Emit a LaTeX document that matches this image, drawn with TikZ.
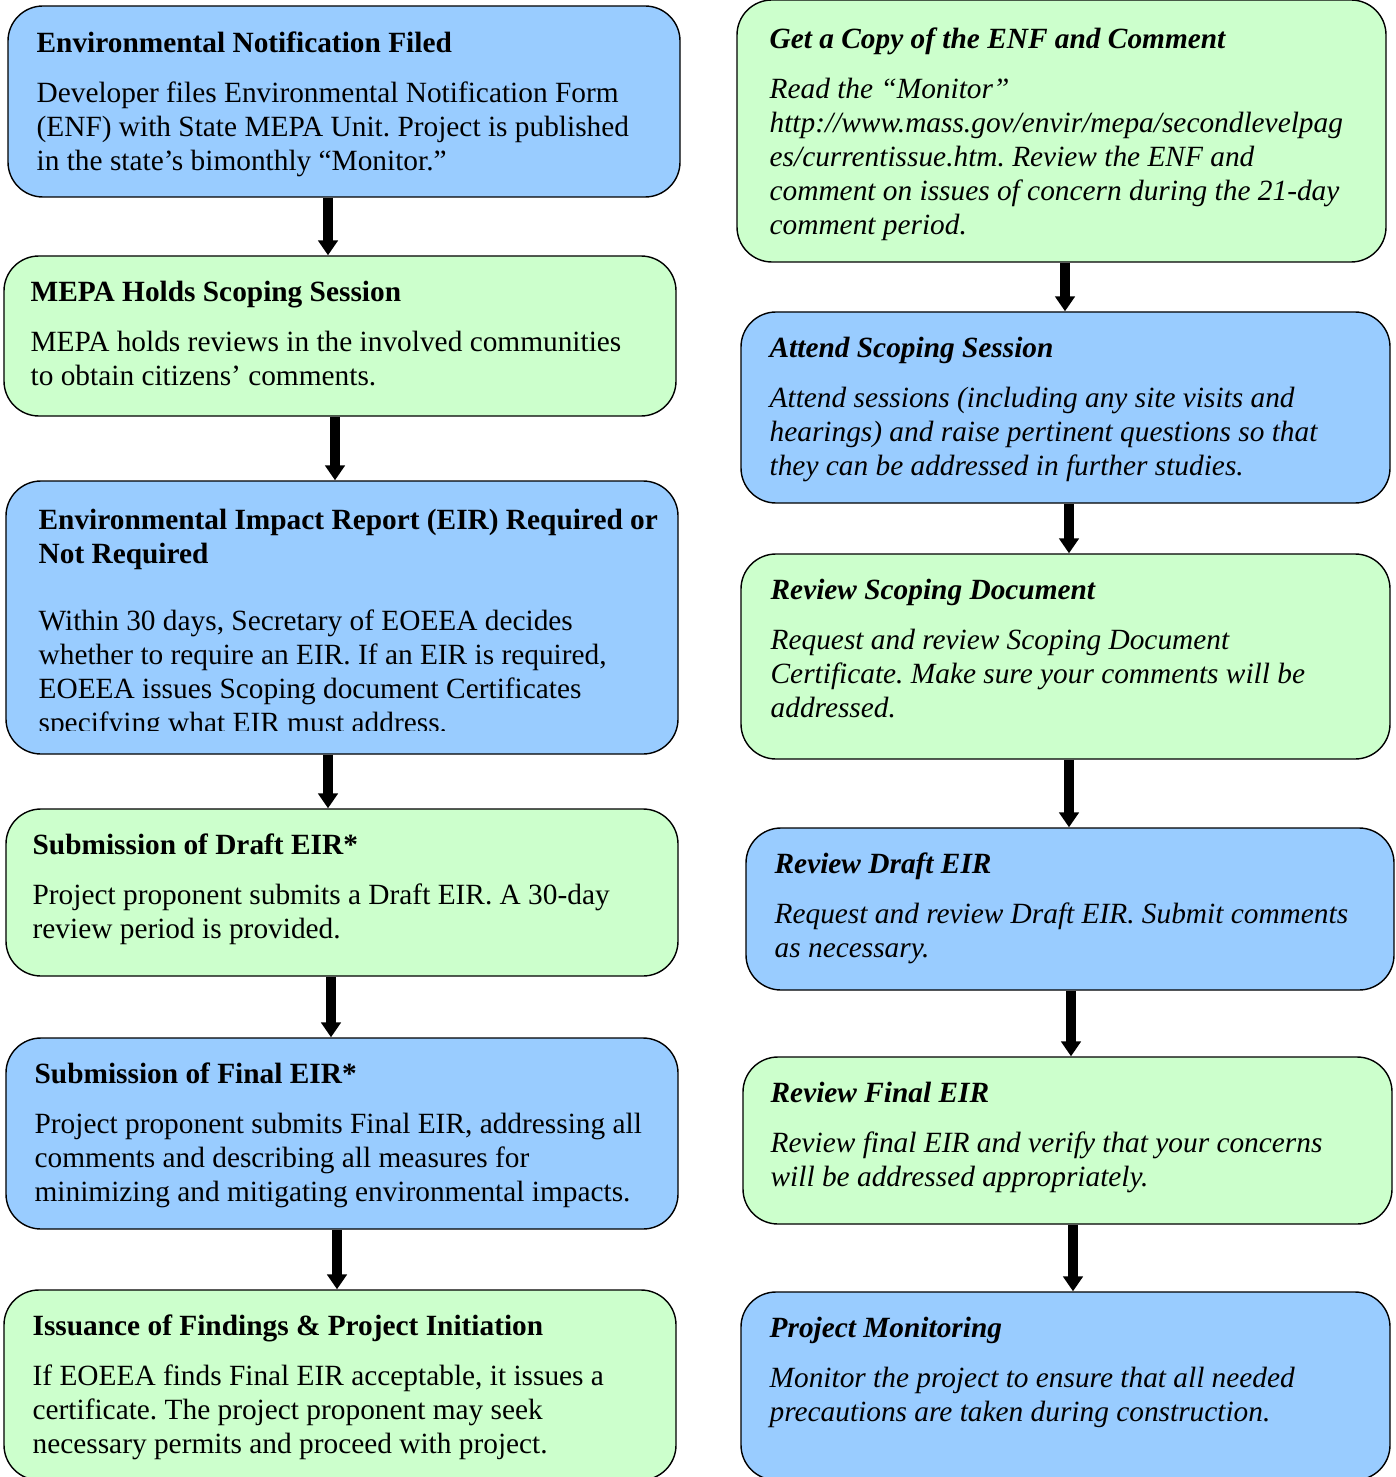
\documentclass[tikz,border=0pt]{standalone}
\usepackage{fontspec}
\setmainfont{Liberation Serif}
\usepackage{tikz}
\usetikzlibrary{positioning}
\usetikzlibrary{arrows.meta,calc}
\frenchspacing
\definecolor{stepblue}{HTML}{99CCFF}
\definecolor{stepgreen}{HTML}{CCFFCC}
\newcommand{\steptitle}{\bfseries}
\tikzstyle{stepbox}=[draw=black,line width=0.8pt,rounded corners=0.7cm,inner sep=0pt]
\tikzstyle{steptext}=[anchor=north west,inner sep=0pt,align=left,font=\fontsize{16.7}{19.35}\selectfont]
\tikzstyle{citizentext}=[steptext,font=\fontsize{16.7}{19.35}\selectfont\itshape]
\tikzstyle{flowarrow}=[draw,line width=5.3pt,-{Triangle[width=11pt,length=8.5pt]}]

\begin{document}
\begin{tikzpicture}
\useasboundingbox (0,0) rectangle (27.9,-29.54);

    % First we draw the boxes of both columns
    \foreach \pos/\name/\boxw/\boxh/\col in {{(6.88,-2.03)/envnot/13.44/3.82/stepblue},
        {(6.80,-6.72)/scoping/13.44/3.20/stepgreen},
        {(6.84,-12.35)/eir/13.44/5.46/stepblue},
        {(6.84,-17.85)/draft/13.44/3.34/stepgreen},
        {(6.84,-22.67)/final/13.44/3.82/stepblue},
        {(6.80,-27.70)/findings/13.44/3.80/stepgreen},
        {(21.23,-2.62)/getcopy/12.98/5.24/stepgreen},
        {(21.31,-8.15)/attend/12.98/3.82/stepblue},
        {(21.31,-13.13)/revscope/12.98/4.10/stepgreen},
        {(21.40,-18.18)/revdraft/12.96/3.24/stepblue},
        {(21.35,-22.81)/revfinal/12.98/3.34/stepgreen},
        {(21.31,-27.72)/monitor/12.98/3.76/stepblue}}
        \node[stepbox,fill=\col,minimum width=\boxw cm,minimum height=\boxh cm] (\name) at \pos {};

    % Left column: what the agencies do
    \node[steptext] (envnottxt) at ([shift={(0.58,-0.52)}]envnot.north west)
        {{\steptitle Environmental Notification Filed}\\[9.1pt]
         Developer files Environmental Notification Form\\
         (ENF) with State MEPA Unit. Project is published\\
         in the state’s bimonthly “Monitor.”};
    \node[steptext] (scopingtxt) at ([shift={(0.54,-0.50)}]scoping.north west)
        {{\steptitle MEPA Holds Scoping Session}\\[9.1pt]
         MEPA holds reviews in the involved communities\\
         to obtain citizens’ comments.};
    \begin{scope}
    \clip (eir.north west) rectangle ($(eir.south east)+(0,0.48)$);
    \node[steptext] (eirtxt) at ([shift={(0.66,-0.56)}]eir.north west)
        {{\steptitle Environmental Impact Report (EIR) Required or}\\
         {\steptitle Not Required}\\[18.8pt]
         Within 30 days, Secretary of EOEEA decides\\
         whether to require an EIR. If an EIR is required,\\
         EOEEA issues Scoping document Certificates\\
         specifying what EIR must address.};
    \end{scope}
    \node[steptext] (drafttxt) at ([shift={(0.54,-0.50)}]draft.north west)
        {{\steptitle Submission of Draft EIR*}\\[9.1pt]
         Project proponent submits a Draft EIR. A 30-day\\
         review period is provided.};
    \node[steptext] (finaltxt) at ([shift={(0.58,-0.50)}]final.north west)
        {{\steptitle Submission of Final EIR*}\\[9.1pt]
         Project proponent submits Final EIR, addressing all\\
         comments and describing all measures for\\
         minimizing and mitigating environmental impacts.};
    \node[steptext] (findingstxt) at ([shift={(0.58,-0.50)}]findings.north west)
        {{\steptitle Issuance of Findings \& Project Initiation}\\[9.1pt]
         If EOEEA finds Final EIR acceptable, it issues a\\
         certificate. The project proponent may seek\\
         necessary permits and proceed with project.};

    % Right column: what citizens can do
    \node[citizentext] (getcopytxt) at ([shift={(0.66,-0.56)}]getcopy.north west)
        {{\steptitle Get a Copy of the ENF and Comment}\\[9.1pt]
         Read the “Monitor”\\
         http://www.mass.gov/envir/mepa/secondlevelpag\\
         es/currentissue.htm. Review the ENF and\\
         comment on issues of concern during the 21-day\\
         comment period.};
    \node[citizentext] (attendtxt) at ([shift={(0.58,-0.50)}]attend.north west)
        {{\steptitle Attend Scoping Session}\\[9.1pt]
         Attend sessions (including any site visits and\\
         hearings) and raise pertinent questions so that\\
         they can be addressed in further studies.};
    \node[citizentext] (revscopetxt) at ([shift={(0.60,-0.50)}]revscope.north west)
        {{\steptitle Review Scoping Document}\\[9.1pt]
         Request and review Scoping Document\\
         Certificate. Make sure your comments will be\\
         addressed.};
    \node[citizentext] (revdrafttxt) at ([shift={(0.58,-0.50)}]revdraft.north west)
        {{\steptitle Review Draft EIR}\\[9.1pt]
         Request and review Draft EIR. Submit comments\\
         as necessary.};
    \node[citizentext] (revfinaltxt) at ([shift={(0.56,-0.50)}]revfinal.north west)
        {{\steptitle Review Final EIR}\\[9.1pt]
         Review final EIR and verify that your concerns\\
         will be addressed appropriately.};
    \node[citizentext] (monitortxt) at ([shift={(0.58,-0.50)}]monitor.north west)
        {{\steptitle Project Monitoring}\\[9.1pt]
         Monitor the project to ensure that all needed\\
         precautions are taken during construction.};

    % Connect the boxes with arrows
    \foreach \source/\dest/\ax in {envnot/scoping/6.56, scoping/eir/6.70, eir/draft/6.56,
        draft/final/6.62, final/findings/6.74, getcopy/attend/21.30, attend/revscope/21.38,
        revscope/revdraft/21.38, revdraft/revfinal/21.42, revfinal/monitor/21.46}
        \path[flowarrow] (\source.south -| \ax,0) -- (\dest.north -| \ax,0);

\end{tikzpicture}
\end{document}
